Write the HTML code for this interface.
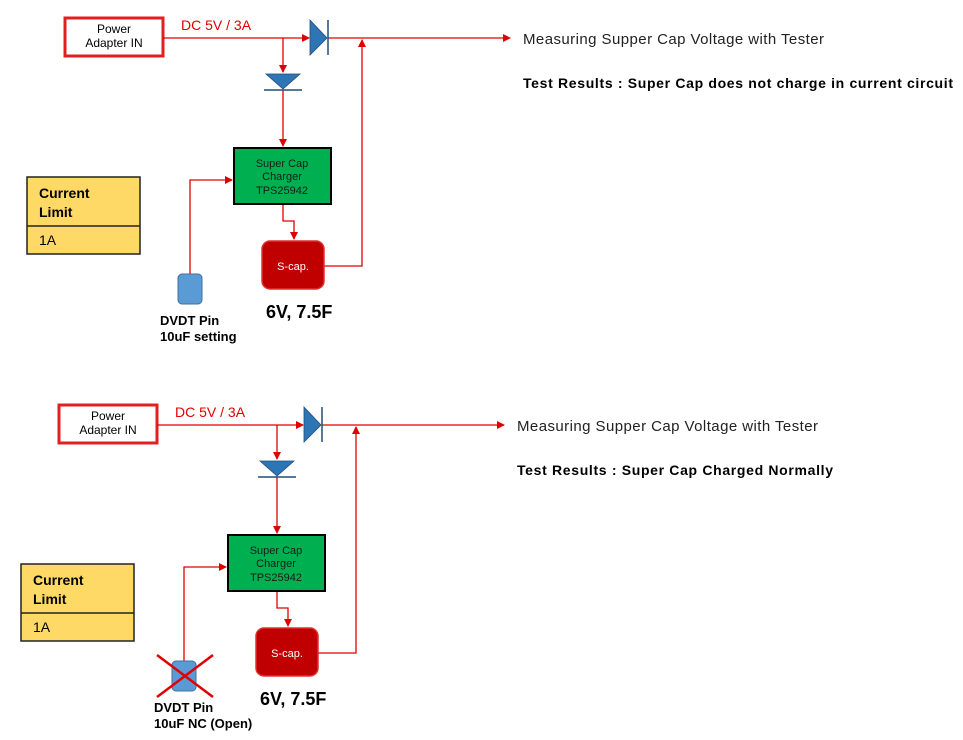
<!DOCTYPE html>
<html><head><meta charset="utf-8"><style>
html,body{margin:0;padding:0;background:#fff;}
svg{display:block;font-family:"Liberation Sans",sans-serif;}
</style></head><body>
<svg width="963" height="740" viewBox="0 0 963 740" xmlns="http://www.w3.org/2000/svg">
<defs>
<marker id="ar" markerWidth="8" markerHeight="8" refX="7" refY="4" orient="auto" markerUnits="userSpaceOnUse">
<path d="M0,0 L8,4 L0,8 z" fill="#e00000"/></marker>
</defs>
<g id="d1">
<rect x="65" y="18" width="98" height="38" fill="#fff" stroke="#e02020" stroke-width="3"/>
<text x="114" y="33" font-size="12" text-anchor="middle">Power</text>
<text x="114" y="47" font-size="12" text-anchor="middle">Adapter IN</text>
<text x="181" y="30" font-size="14" fill="#e00000">DC 5V / 3A</text>
<g stroke="#e00000" stroke-width="1.3" fill="none">
<line x1="163" y1="38" x2="309" y2="38" marker-end="url(#ar)"/>
<line x1="328" y1="38" x2="510" y2="38" marker-end="url(#ar)"/>
<line x1="283" y1="38" x2="283" y2="72" marker-end="url(#ar)"/>
<line x1="283" y1="90" x2="283" y2="146" marker-end="url(#ar)"/>
<polyline points="190,274 190,180 232,180" marker-end="url(#ar)"/>
<polyline points="283,204 283,221 294,221 294,239" marker-end="url(#ar)"/>
<polyline points="324,266 362,266 362,40" marker-end="url(#ar)"/>
</g>
<polygon points="310,20 327,38 310,55" fill="#2e75b6" stroke="#1f4e79" stroke-width="0.8"/>
<line x1="328" y1="20" x2="328" y2="55" stroke="#1f4e79" stroke-width="1.5"/>
<polygon points="266,74 300,74 283,89" fill="#2e75b6" stroke="#1f4e79" stroke-width="0.8"/>
<line x1="264" y1="90" x2="302" y2="90" stroke="#1f4e79" stroke-width="1.5"/>
<rect x="234" y="148" width="97" height="56" fill="#00b050" stroke="#000" stroke-width="2"/>
<text x="282" y="167" font-size="11" text-anchor="middle" fill="#1a1a1a">Super Cap</text>
<text x="282" y="180" font-size="11" text-anchor="middle" fill="#1a1a1a">Charger</text>
<text x="282" y="194" font-size="11" text-anchor="middle" fill="#1a1a1a">TPS25942</text>
<rect x="178" y="274" width="24" height="30" rx="4" fill="#5b9bd5" stroke="#41719c"/>
<rect x="262" y="241" width="62" height="48" rx="8" fill="#c00000" stroke="#e03030" stroke-width="1.5"/>
<text x="293" y="270" font-size="11" text-anchor="middle" fill="#fff">S-cap.</text>
<text x="266" y="318" font-size="18" font-weight="bold">6V, 7.5F</text>
<text x="523" y="44" font-size="15" fill="#222" textLength="301">Measuring Supper Cap Voltage with Tester</text>
<rect x="27" y="177" width="113" height="77" fill="#ffd966" stroke="#222" stroke-width="1.5"/>
<line x1="27" y1="226" x2="140" y2="226" stroke="#222" stroke-width="1.5"/>
<text x="39" y="198" font-size="14" font-weight="bold">Current</text>
<text x="39" y="217" font-size="14" font-weight="bold">Limit</text>
<text x="39" y="245" font-size="14">1A</text>
</g>
<text x="523" y="88" font-size="14" font-weight="bold" textLength="430">Test Results : Super Cap does not charge in current circuit</text>
<text x="160" y="325" font-size="13" font-weight="bold">DVDT Pin</text>
<text x="160" y="341" font-size="13" font-weight="bold">10uF setting</text>
<use href="#d1" transform="translate(-6,387)"/>
<text x="517" y="475" font-size="14" font-weight="bold" textLength="316">Test Results : Super Cap Charged Normally</text>
<text x="154" y="712" font-size="13" font-weight="bold">DVDT Pin</text>
<text x="154" y="728" font-size="13" font-weight="bold">10uF NC (Open)</text>
<line x1="157" y1="655" x2="213" y2="697" stroke="#e00000" stroke-width="2.5"/>
<line x1="213" y1="655" x2="157" y2="697" stroke="#e00000" stroke-width="2.5"/>
</svg>
</body></html>
